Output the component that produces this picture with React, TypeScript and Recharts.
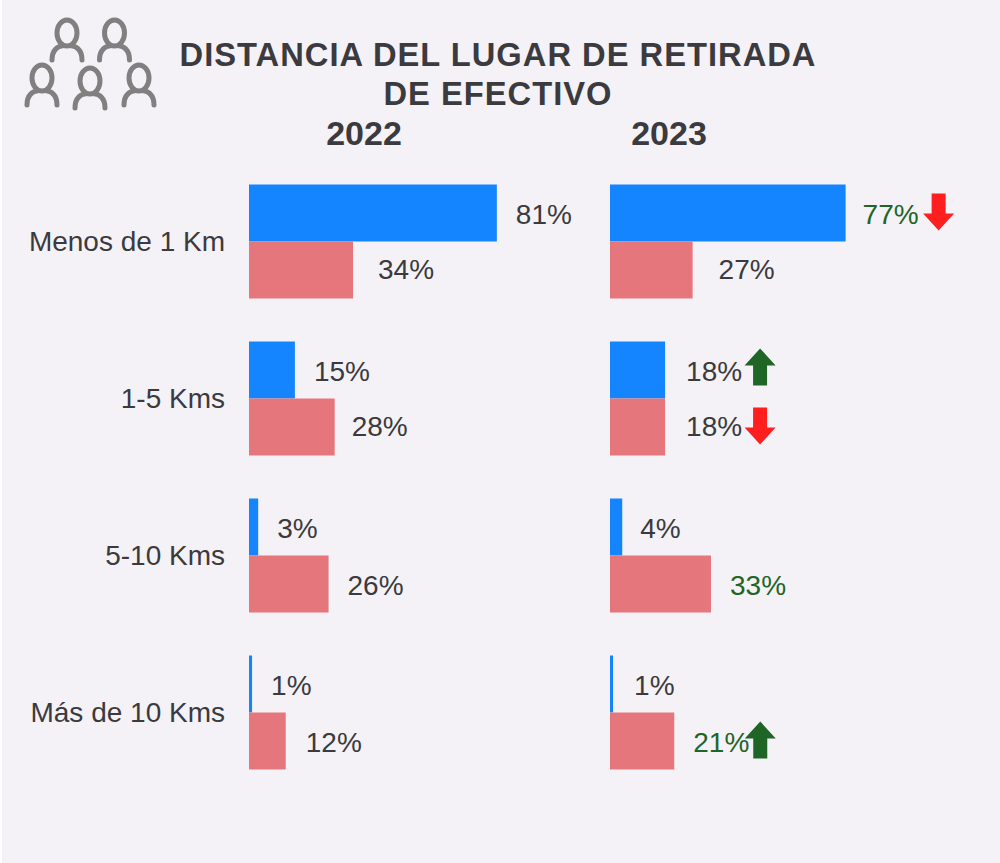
import React from "react";
import { BarChart, Bar, XAxis, YAxis, LabelList } from "recharts";

const categories = ["Menos de 1 Km", "1-5 Kms", "5-10 Kms", "Más de 10 Kms"];
const blue2022 = [81, 15, 3, 1];
const red2022 = [34, 28, 26, 12];
const blue2023 = [77, 18, 4, 1];
const red2023 = [27, 18, 33, 21];
// Trend shown next to a label: "up", "down" or "" for none
const blueTrend2023 = ["down", "up", "", ""];
const redTrend2023 = ["", "down", "", "up"];
// Labels printed in green
const blueGreen2023 = [true, false, false, false];
const redGreen2023 = [false, false, true, true];

const titleLines = ["DISTANCIA DEL LUGAR DE RETIRADA", "DE EFECTIVO"];
const years = ["2022", "2023"];

const FONT = "'Liberation Sans', Arial, sans-serif";
const BLUE = "#1585ff";
const RED = "#e5767c";
const BG = "#f4f2f6";
const TEXT = "#3b3a3e";
const GREEN = "#1f6526";
const ARROW_RED = "#ff1f1f";
const PX_PER_PCT = 3.06;
const LABEL_SIZE = 28;

const rows = (a: number[], b: number[]) =>
  categories.map((name, i) => ({ name, blue: a[i], red: b[i] }));

function Arrow({ cx, cy, dir }: { cx: number; cy: number; dir: string }) {
  const s = dir === "up" ? -1 : 1;
  const tip = cy + s * 18.5;
  const base = cy - s * 18.5;
  const neck = tip - s * 17;
  const pts = [
    [cx - 7, base],
    [cx + 7, base],
    [cx + 7, neck],
    [cx + 15.5, neck],
    [cx, tip],
    [cx - 15.5, neck],
    [cx - 7, neck],
  ]
    .map((p) => p.join(","))
    .join(" ");
  return <polygon points={pts} fill={dir === "up" ? GREEN : ARROW_RED} />;
}

function makeLabel(opts: {
  trend?: string[];
  green?: boolean[];
  nudge?: number[];
  lift?: number[];
  arrowGap?: number[];
  arrowLift?: number[];
}) {
  return (props: any) => {
    const { x, y, width, height, value, index } = props;
    const lx = x + width + 19 + (opts.nudge ? opts.nudge[index] : 0);
    const cy = y + height / 2;
    const dir = opts.trend ? opts.trend[index] : "";
    return (
      <g>
        <text
          x={lx}
          y={cy + 1.5 - (opts.lift ? opts.lift[index] : 0)}
          dominantBaseline="central"
          fontFamily={FONT}
          fontSize={LABEL_SIZE}
          fill={opts.green && opts.green[index] ? GREEN : TEXT}
        >
          {value}%
        </text>
        {dir ? (
          <Arrow
            cx={lx + (opts.arrowGap ? opts.arrowGap[index] : 74)}
            cy={cy - 1 - (opts.arrowLift ? opts.arrowLift[index] : 0)}
            dir={dir}
          />
        ) : null}
      </g>
    );
  };
}

function Person({ x, y }: { x: number; y: number }) {
  return (
    <g fill="none" stroke="#808080" strokeWidth={5} strokeLinecap="round">
      <ellipse cx={x} cy={y} rx={10} ry={13} />
      <path d={`M ${x - 15} ${y + 27} C ${x - 15} ${y + 16} ${x - 8} ${y + 13} ${x - 5} ${y + 13}`} />
      <path d={`M ${x + 15} ${y + 27} C ${x + 15} ${y + 16} ${x + 8} ${y + 13} ${x + 5} ${y + 13}`} />
    </g>
  );
}

function Panel({
  data,
  left,
  width,
  axisWidth,
  showAxis,
  blueLabel,
  redLabel,
}: any) {
  const plot = width - axisWidth;
  return (
    <div style={{ position: "absolute", left, top: 0 }}>
      <BarChart
        width={width}
        height={863}
        data={data}
        layout="vertical"
        barGap={0}
        barCategoryGap={22}
        margin={{ top: 162.5, bottom: 72.5, left: 0, right: 0 }}
      >
        <XAxis type="number" hide domain={[0, plot / PX_PER_PCT]} />
        <YAxis
          type="category"
          dataKey="name"
          width={axisWidth}
          hide={!showAxis}
          axisLine={false}
          tickLine={false}
          tickSize={0}
          tickMargin={24}
          interval={0}
          tick={{ fontFamily: FONT, fontSize: LABEL_SIZE, fill: TEXT }}
        />
        <Bar dataKey="blue" fill={BLUE} isAnimationActive={false}>
          <LabelList dataKey="blue" content={blueLabel} />
        </Bar>
        <Bar dataKey="red" fill={RED} isAnimationActive={false}>
          <LabelList dataKey="red" content={redLabel} />
        </Bar>
      </BarChart>
    </div>
  );
}

export default function App() {
  return (
    <div style={{ position: "absolute", left: 0, top: 0, width: 1000, height: 863, background: "#fff", overflow: "hidden" }}>
      <div style={{ position: "absolute", left: 2, top: 0, width: 998, height: 863, background: BG }} />
      <Panel
        data={rows(blue2022, red2022)}
        left={0}
        width={600}
        axisWidth={249}
        showAxis
        blueLabel={makeLabel({})}
        redLabel={makeLabel({ nudge: [6, -2, 0, 1], lift: [2, 2, 0, 0] })}
      />
      <Panel
        data={rows(blue2023, red2023)}
        left={610}
        width={390}
        axisWidth={0}
        showAxis={false}
        blueLabel={makeLabel({
          trend: blueTrend2023,
          green: blueGreen2023,
          nudge: [-2, 2, -1, 2],
          arrowGap: [76, 74, 74, 74],
          arrowLift: [0, 2, 0, 0],
        })}
        redLabel={makeLabel({
          trend: redTrend2023,
          green: redGreen2023,
          nudge: [7, 2, 0, 0],
          lift: [2, 2, 0, 0],
          arrowGap: [74, 74, 74, 67],
        })}
      />
      <svg width={1000} height={863} style={{ position: "absolute", left: 0, top: 0, pointerEvents: "none" }}>
        <Person x={67} y={33} />
        <Person x={114.5} y={33} />
        <Person x={42} y={78} />
        <Person x={90} y={81} />
        <Person x={139} y={78} />
        {titleLines.map((t, i) => (
          <text key={t} x={498} y={66 + i * 39} textAnchor="middle" fontFamily={FONT} fontWeight="bold" fontSize={32.7} letterSpacing={1} fill={TEXT}>
            {t}
          </text>
        ))}
        {years.map((t, i) => (
          <text key={t} x={i === 0 ? 364 : 669} y={145} textAnchor="middle" fontFamily={FONT} fontWeight="bold" fontSize={34} fill={TEXT}>
            {t}
          </text>
        ))}
      </svg>
    </div>
  );
}
